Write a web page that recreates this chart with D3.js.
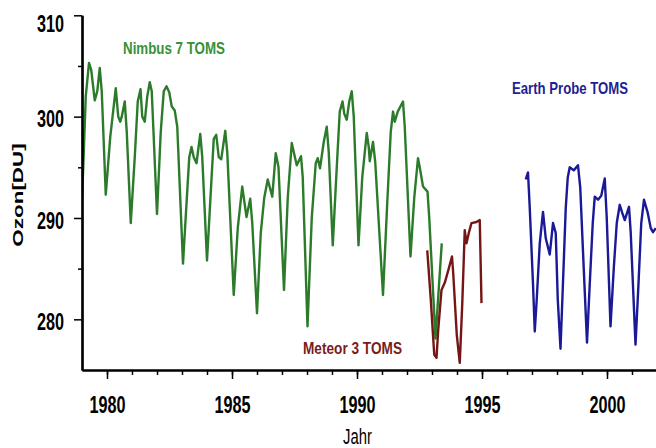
<!DOCTYPE html>
<html>
<head>
<meta charset="utf-8">
<script src="https://cdn.jsdelivr.net/npm/d3@7"></script>
<style>
  html, body { margin: 0; padding: 0; background: #fff; }
  svg { display: block; }
  text { font-family: "Liberation Sans", Arial, sans-serif; }
</style>
</head>
<body>
<svg id="chart" width="656" height="448"></svg>
<script>
// Monthly mean total ozone (DU) from the three TOMS instruments
const nimbusYear = [1979.01,1979.15,1979.28,1979.37,1979.51,1979.61,1979.71,1979.79,1979.95,
  1980.13,1980.35,1980.45,1980.53,1980.59,1980.71,1980.79,1980.95,
  1981.11,1981.23,1981.34,1981.41,1981.51,1981.61,1981.71,1981.79,1982.00,
  1982.15,1982.27,1982.38,1982.49,1982.59,1982.71,1982.81,1983.04,
  1983.17,1983.29,1983.38,1983.47,1983.58,1983.73,1983.81,1984.00,
  1984.15,1984.27,1984.37,1984.47,1984.57,1984.73,1984.81,1985.07,
  1985.23,1985.41,1985.58,1985.73,1985.81,1986.00,
  1986.15,1986.29,1986.43,1986.61,1986.75,1986.86,1987.08,
  1987.23,1987.39,1987.47,1987.59,1987.76,1987.83,1988.02,
  1988.19,1988.35,1988.43,1988.52,1988.67,1988.79,1988.87,1989.03,
  1989.19,1989.31,1989.42,1989.49,1989.59,1989.69,1989.79,1989.87,1990.06,
  1990.21,1990.39,1990.47,1990.51,1990.64,1990.73,1991.04,
  1991.21,1991.35,1991.44,1991.51,1991.63,1991.84,1991.91,1992.14,
  1992.29,1992.44,1992.51,1992.64,1992.82,1992.89,1993.14,1993.27,1993.39];
const nimbusDU = [292.3,302.0,305.3,304.6,301.6,302.5,304.8,302.5,292.3,
  298.0,302.8,300.0,299.5,300.0,301.5,298.5,289.5,
  296.0,301.5,302.7,300.0,299.5,302.0,303.4,302.5,290.4,
  298.5,302.5,303.0,302.4,301.0,300.6,299.0,285.5,
  291.0,296.0,297.0,296.0,295.4,298.3,296.0,285.8,
  292.5,297.8,298.2,296.0,295.8,298.6,296.5,282.4,
  289.0,293.1,290.1,291.9,289.5,280.6,
  288.5,292.0,293.8,292.1,296.4,295.0,282.9,
  292.0,297.4,296.5,295.2,296.1,294.0,279.3,
  290.0,295.4,295.9,294.9,297.5,299.0,296.5,287.3,
  295.0,300.5,301.5,300.3,299.7,301.5,302.5,300.0,287.3,
  294.0,298.4,297.0,295.6,297.5,295.5,282.4,
  291.5,298.5,300.5,299.5,300.5,301.5,299.0,286.2,
  292.0,295.9,295.0,293.1,292.6,290.0,278.1,283.0,287.5];

const meteorYear = [1992.81,1992.95,1993.09,1993.18,1993.25,1993.38,1993.51,1993.67,1993.80,
  1993.85,1993.99,1994.11,1994.21,1994.31,1994.38,1994.47,1994.58,1994.78,1994.91,1994.98];
const meteorDU = [286.8,282.0,276.5,276.2,279.0,282.9,283.6,285.0,286.2,
  284.5,278.5,275.7,281.5,288.8,287.5,288.5,289.5,289.6,289.8,281.6];

const earthProbeYear = [1996.75,1996.84,1996.91,1997.04,1997.11,1997.19,1997.31,1997.44,1997.55,
  1997.71,1997.84,1997.95,1998.03,1998.14,1998.23,1998.35,1998.43,1998.51,1998.67,1998.84,
  1998.93,1999.07,1999.20,1999.31,1999.43,1999.51,1999.64,1999.77,1999.91,1999.99,
  2000.14,2000.27,2000.39,2000.51,2000.61,2000.71,2000.88,2000.95,2001.14,2001.25,
  2001.37,2001.48,2001.63,2001.75,2001.84,2001.95];
const earthProbeDU = [293.8,294.5,291.0,283.5,278.8,282.0,287.5,290.6,288.0,
  286.4,289.5,288.5,282.0,277.1,283.0,291.0,294.0,295.0,294.7,295.2,
  293.0,285.0,277.7,283.5,289.5,292.1,291.8,292.2,293.9,290.0,
  279.3,285.0,289.5,291.3,290.5,289.8,291.1,288.5,277.5,283.0,
  289.5,291.8,290.5,289.0,288.6,289.0];

const yMajorTicks = [280, 290, 300, 310];
const yMinorTicks = [285, 295, 305];
const xMajorTicks = [1980, 1985, 1990, 1995, 2000];
const xMinorTicks = d3.range(1980, 2002);

const seriesNames = ["Nimbus 7 TOMS", "Meteor 3 TOMS", "Earth Probe TOMS"];
const xTitle = "Jahr";
const yTitle = "Ozon[DU]";

const svg = d3.select("#chart");
const plotLeft = 82, plotRight = 657, plotTop = 15.3, plotBottom = 370;

const x = d3.scaleLinear().domain([1979, 2002]).range([plotLeft, plotRight]);
const y = d3.scaleLinear().domain([275, 310]).range([plotBottom, plotTop]);

// squeeze glyphs horizontally (narrow, tall lettering)
function squeeze(sel, ratio) {
  sel.each(function () {
    const w = this.getComputedTextLength();
    d3.select(this).attr("textLength", w * ratio).attr("lengthAdjust", "spacingAndGlyphs");
  });
}

// plot lines
svg.append("clipPath").attr("id", "plotClip")
  .append("rect").attr("x", plotLeft).attr("y", 0)
  .attr("width", plotRight - plotLeft).attr("height", plotBottom);

const line = d3.line().x(d => x(d[0])).y(d => y(d[1]));
const series = [
  { pts: d3.zip(nimbusYear, nimbusDU), color: "#2b7b2b" },
  { pts: d3.zip(meteorYear, meteorDU), color: "#751616" },
  { pts: d3.zip(earthProbeYear, earthProbeDU), color: "#1a1a96" }
];
const g = svg.append("g").attr("clip-path", "url(#plotClip)");
series.forEach(s => {
  g.append("path").datum(s.pts).attr("d", line)
    .attr("fill", "none").attr("stroke", s.color)
    .attr("stroke-width", 2.4).attr("stroke-linejoin", "round");
});

// y axis
const yAxisMinor = svg.append("g").attr("transform", `translate(${plotLeft},0)`)
  .call(d3.axisLeft(y).tickValues(yMinorTicks).tickSize(4).tickSizeOuter(0).tickFormat(""));
const yAxis = svg.append("g").attr("transform", `translate(${plotLeft},0)`)
  .call(d3.axisLeft(y).tickValues(yMajorTicks).tickSize(8).tickSizeOuter(0));

// x axis
const xAxisMinor = svg.append("g").attr("transform", `translate(0,${plotBottom})`)
  .call(d3.axisBottom(x).tickValues(xMinorTicks).tickSize(5).tickSizeOuter(0).tickFormat(""));
const xAxis = svg.append("g").attr("transform", `translate(0,${plotBottom})`)
  .call(d3.axisBottom(x).tickValues(xMajorTicks).tickSize(9).tickSizeOuter(0).tickFormat(d3.format("d")));

[yAxisMinor, yAxis, xAxisMinor, xAxis].forEach(a => {
  a.select(".domain").attr("stroke", "#000").attr("stroke-width", 2.2);
  a.selectAll(".tick line").attr("stroke", "#000").attr("stroke-width", 1.5);
});

yAxis.selectAll(".tick text")
  .attr("font-size", 24).attr("font-weight", "bold").attr("fill", "#000")
  .attr("x", -18).attr("dy", null)
  .attr("y", d => Math.max(10.3, 31 - y(d)))
  .call(squeeze, 0.675);

xAxis.selectAll(".tick text")
  .attr("font-size", 24).attr("font-weight", "bold").attr("fill", "#000")
  .attr("y", 42.5).attr("dy", null)
  .call(squeeze, 0.675);

// axis titles
svg.append("text").attr("x", 357.5).attr("y", 444)
  .attr("text-anchor", "middle").attr("font-size", 22).attr("fill", "#000")
  .text(xTitle).call(squeeze, 0.675);

svg.append("text").attr("transform", "translate(23,195) rotate(-90)")
  .attr("text-anchor", "middle").attr("font-size", 15.5).attr("font-weight", "bold")
  .attr("fill", "#000")
  .text(yTitle).call(squeeze, 1.45);

// instrument labels: small bold type stretched vertically
const labelSpecs = [
  { x: 123, y: 54, w: 102, color: "#35923a" },
  { x: 303, y: 354, w: 99, color: "#7a1c1c" },
  { x: 512, y: 94, w: 116, color: "#1f1f94" }
];
seriesNames.forEach((name, i) => {
  const s = labelSpecs[i];
  svg.append("text")
    .attr("transform", `translate(${s.x},${s.y}) scale(1,1.4)`)
    .attr("font-size", 12.4).attr("font-weight", "bold").attr("fill", s.color)
    .attr("textLength", s.w).attr("lengthAdjust", "spacingAndGlyphs")
    .text(name);
});
</script>
</body>
</html>
